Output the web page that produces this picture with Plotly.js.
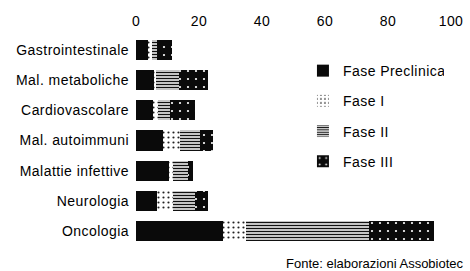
<!DOCTYPE html>
<html><head><meta charset="utf-8">
<script src="https://cdn.plot.ly/plotly-3.0.1.min.js"></script>
<style>html,body{margin:0;padding:0;background:#fff}#c{width:470px;height:271px}
#c .ytick text,#c .xtick text,#c .legendtext{letter-spacing:0.45px}</style>
</head><body><div id="c"></div>
<script>
var categories = ["Gastrointestinale","Mal. metaboliche","Cardiovascolare","Mal. autoimmuni","Malattie infettive","Neurologia","Oncologia"];
var fasePreclinica = [3.8, 5.8, 5.4, 8.6, 10.5, 6.7, 27.6];
var faseI = [1.2, 0.5, 1.6, 5.4, 1.3, 4.9, 7.4];
var faseII = [1.6, 7.5, 3.8, 6.3, 4.8, 7.1, 39.0];
var faseIII = [4.8, 9.0, 7.9, 4.2, 1.4, 4.2, 20.6];
var seriesNames = ["Fase Preclinica","Fase I","Fase II","Fase III"];
var xTicks = [0,20,40,60,80,100];
var source = "Fonte: elaborazioni Assobiotec";

var FONT = "Liberation Sans, Arial, sans-serif";
function tr(name, vals, marker){
  return {type:"bar", orientation:"h", name:name, x:vals, y:categories,
    marker:marker, legendgroup:name, hoverinfo:"x+name"};
}
var data = [
  tr(seriesNames[0], fasePreclinica, {color:"#0a0a0a", line:{width:0}}),
  tr(seriesNames[1], faseI, {color:"#ffffff", line:{width:0},
     pattern:{shape:".", fgcolor:"#222", bgcolor:"#ffffff", size:5, solidity:0.15, fillmode:"replace"}}),
  tr(seriesNames[2], faseII, {color:"#ffffff", line:{width:0},
     pattern:{shape:"-", fgcolor:"#111", bgcolor:"#ffffff", size:3, solidity:0.5, fillmode:"replace"}}),
  tr(seriesNames[3], faseIII, {color:"#0a0a0a", line:{width:0},
     pattern:{shape:".", fgcolor:"#ffffff", bgcolor:"#0a0a0a", size:8, solidity:0.06, fillmode:"replace"}})
];
var layout = {
  width:470, height:271,
  margin:{l:136, r:19, t:35, b:25, pad:0},
  paper_bgcolor:"#fff", plot_bgcolor:"#fff",
  barmode:"stack", bargap:0.33,
  font:{family:FONT, size:14, color:"#000"},
  showlegend:true,
  legend:{x:0.53, y:0.905, xanchor:"left", yanchor:"top", traceorder:"grouped",
          tracegroupgap:9, font:{family:FONT, size:14, color:"#000"}, bgcolor:"rgba(0,0,0,0)"},
  xaxis:{side:"top", range:[0,100], tickvals:xTicks, ticktext:xTicks.map(String),
         showgrid:false, zeroline:false, showline:false, ticks:"", ticklabelstandoff:5,
         tickfont:{family:FONT, size:14, color:"#000"}, fixedrange:true},
  yaxis:{type:"category", autorange:"reversed", showgrid:false, zeroline:false, showline:false,
         ticks:"", ticklabelstandoff:6, tickfont:{family:FONT, size:14, color:"#000"}, fixedrange:true},
  annotations:[{text:source, xref:"paper", yref:"paper", x:(466-136)/315, y:-(263-246)/211,
     xanchor:"right", yanchor:"middle", showarrow:false, font:{family:FONT, size:13, color:"#000"}}]
};
Plotly.newPlot("c", data, layout, {displayModeBar:false, staticPlot:true});
</script></body></html>
